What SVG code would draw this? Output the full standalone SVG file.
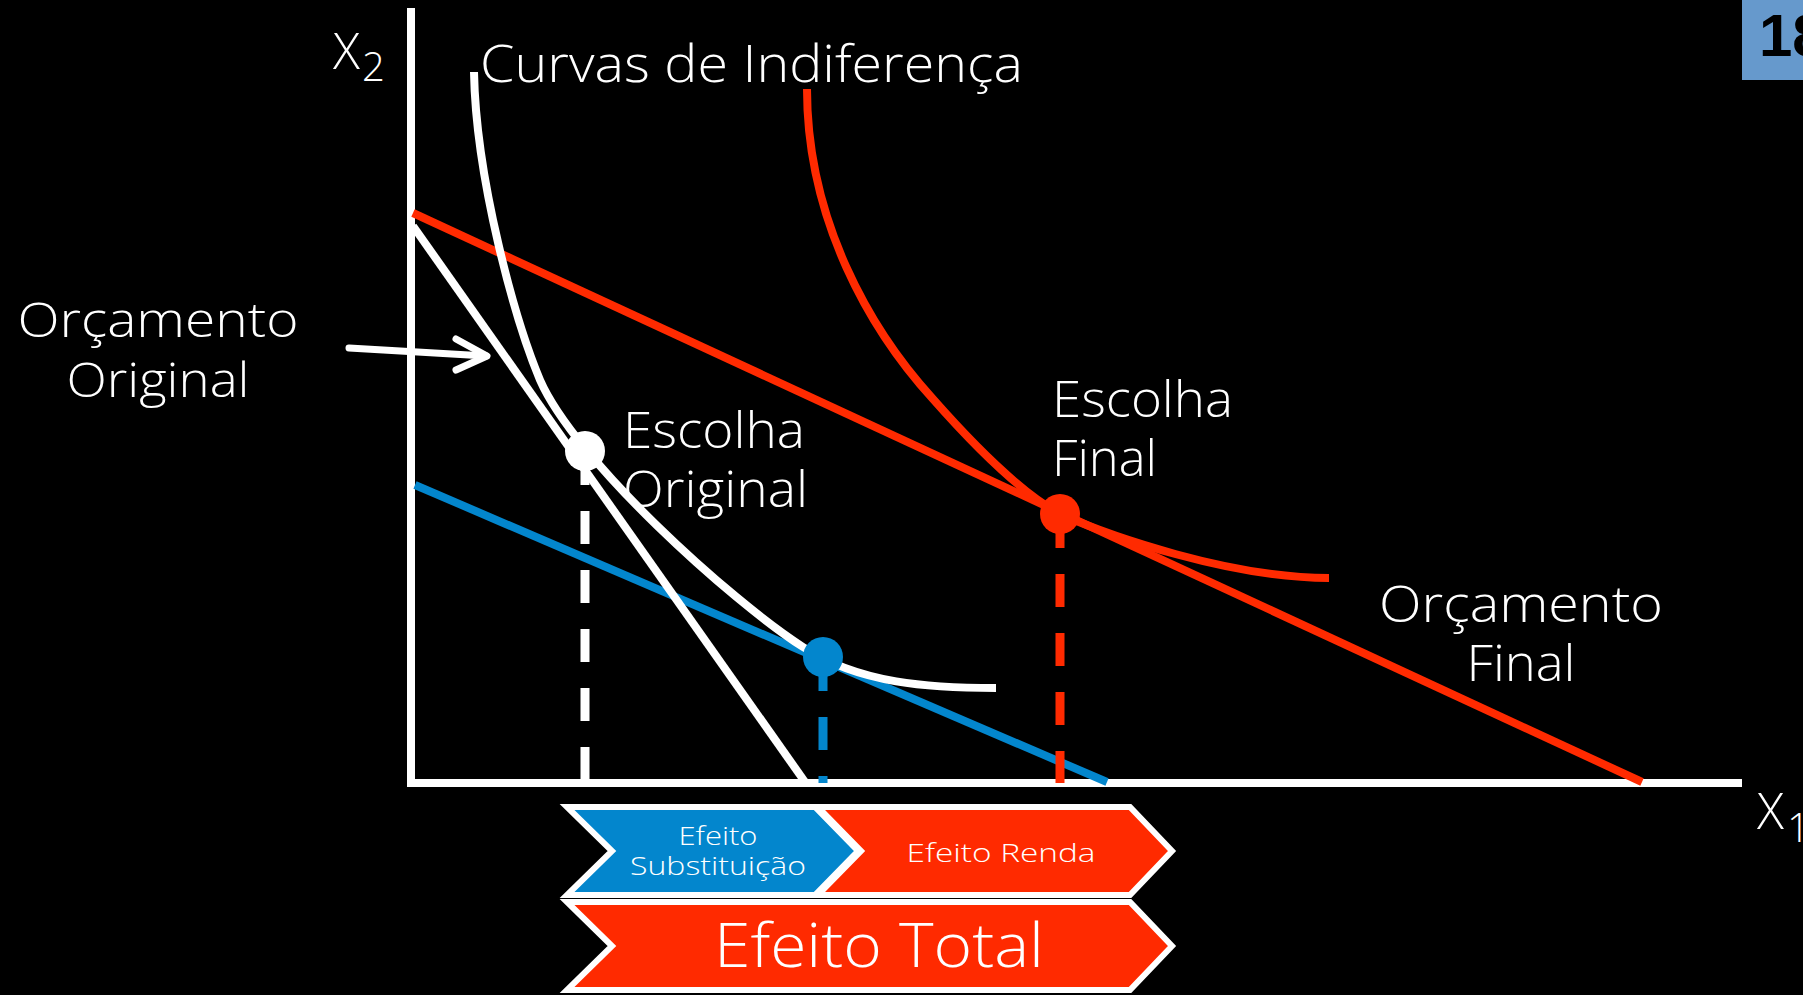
<svg xmlns="http://www.w3.org/2000/svg" width="1803" height="995" viewBox="0 0 1803 995">
<style>
.t{font-family:"Open Sans","Liberation Sans",sans-serif;font-weight:300;fill:#fff}
.ln{fill:none;stroke-width:8}
.w{stroke:#fff}
.r{stroke:#FF2A00}
.b{stroke:#0386CD}
.dash{stroke-width:9;stroke-dasharray:33 26;fill:none}
.chev{stroke:#fff;stroke-width:6;stroke-linejoin:miter}
</style>
<rect width="1803" height="995" fill="#000"/>
<g id="page-number">
<rect x="1742" y="0" width="70" height="80" fill="#6699CC"/>
<text x="1759" y="56" font-family="Liberation Sans, sans-serif" font-weight="bold" font-size="60" fill="#000">18</text>
</g>
<g id="axes">
<line x1="411" y1="8" x2="411" y2="787" class="ln w"/>
<line x1="407" y1="783" x2="1742" y2="783" class="ln w"/>
<text class="t" x="333" y="69" font-size="50">X</text>
<text class="t" x="362" y="81" font-size="40">2</text>
<text class="t" x="1757" y="829" font-size="50">X</text>
<text class="t" x="1787" y="842" font-size="40">1</text>
</g>
<g id="connectors">
<line x1="415" y1="485" x2="1107" y2="782" class="ln b"/>
<line x1="413" y1="213" x2="1642" y2="782" class="ln r"/>
<line x1="413" y1="226" x2="805" y2="782" class="ln w" stroke-width="7"/>
<path d="M474,72 C476,180 515,320 540,380 C575,460 730,600 803,647 C860,684 930,688 996,688" class="ln w"/>
<path d="M807,89 C807,220 870,330 933,399 C963,433 1016,490 1060,514 C1110,536 1230,578 1329,578" class="ln r"/>
<line x1="585" y1="452" x2="585" y2="783" class="dash w"/>
<line x1="823" y1="658" x2="823" y2="783" class="dash b"/>
<line x1="1060" y1="515" x2="1060" y2="783" class="dash r"/>
<g id="arrow-original" stroke="#fff" stroke-width="7" stroke-linecap="round" stroke-linejoin="round" fill="none">
<line x1="349" y1="348" x2="486" y2="356"/>
<polyline points="456,339 487,356 456,370"/>
</g>
</g>
<g id="point-original"><circle cx="585" cy="451" r="20" fill="#fff"/></g>
<g id="point-substitution"><circle cx="823" cy="657" r="20" fill="#0386CD"/></g>
<g id="point-final"><circle cx="1060" cy="514" r="20" fill="#FF2A00"/></g>
<g id="labels">
<text class="t" x="480" y="82" font-size="51" textLength="543" lengthAdjust="spacingAndGlyphs">Curvas de Indiferença</text>
<text class="t" x="158" y="337" font-size="48" text-anchor="middle" textLength="281" lengthAdjust="spacingAndGlyphs">Orçamento</text>
<text class="t" x="158" y="397" font-size="48" text-anchor="middle" textLength="183" lengthAdjust="spacingAndGlyphs">Original</text>
<text class="t" x="623" y="448" font-size="50" textLength="182" lengthAdjust="spacingAndGlyphs">Escolha</text>
<text class="t" x="623" y="507" font-size="50" textLength="185" lengthAdjust="spacingAndGlyphs">Original</text>
<text class="t" x="1052" y="417" font-size="50" textLength="181" lengthAdjust="spacingAndGlyphs">Escolha</text>
<text class="t" x="1052" y="476" font-size="50" textLength="105" lengthAdjust="spacingAndGlyphs">Final</text>
<text class="t" x="1521" y="622" font-size="50" text-anchor="middle" textLength="284" lengthAdjust="spacingAndGlyphs">Orçamento</text>
<text class="t" x="1521" y="681" font-size="50" text-anchor="middle" textLength="109" lengthAdjust="spacingAndGlyphs">Final</text>
</g>
<g id="efeito-substituicao">
<polygon points="567,807 815,807 858,851 815,895 567,895 612,851" fill="#0386CD" class="chev"/>
<text class="t" x="718" y="845" font-size="25" text-anchor="middle" textLength="79" lengthAdjust="spacingAndGlyphs">Efeito</text>
<text class="t" x="718" y="875" font-size="25" text-anchor="middle" textLength="176" lengthAdjust="spacingAndGlyphs">Substituição</text>
</g>
<g id="efeito-renda">
<polygon points="818,807 1130,807 1172,851 1130,895 818,895 861,851" fill="#FF2A00" class="chev"/>
<text class="t" x="1001" y="862" font-size="25" text-anchor="middle" textLength="189" lengthAdjust="spacingAndGlyphs">Efeito Renda</text>
</g>
<g id="efeito-total">
<polygon points="567,902 1130,902 1172,946 1130,990 567,990 612,946" fill="#FF2A00" class="chev"/>
<text class="t" x="879" y="967" font-size="61" text-anchor="middle" textLength="330" lengthAdjust="spacingAndGlyphs">Efeito Total</text>
</g>
</svg>
